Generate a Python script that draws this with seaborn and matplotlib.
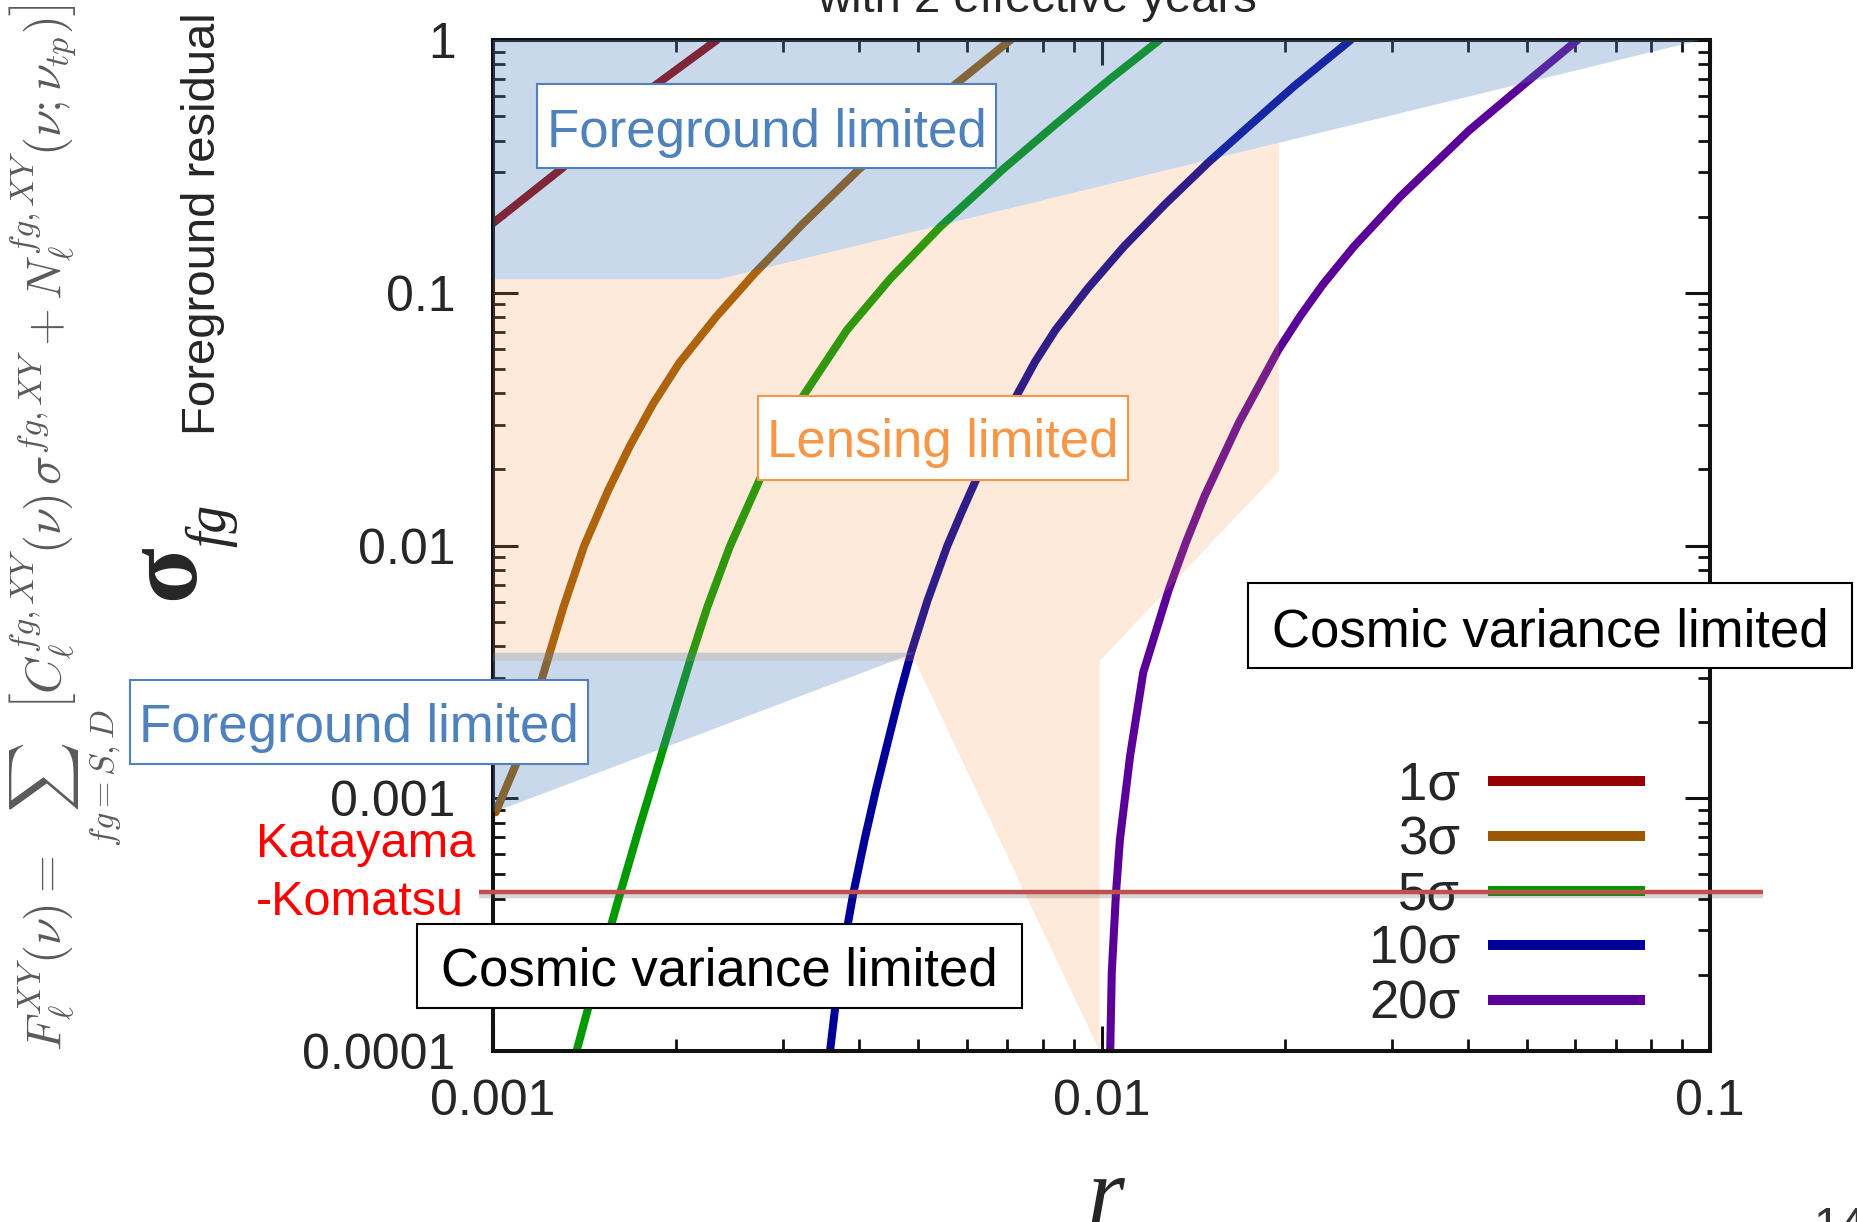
import matplotlib
matplotlib.use("Agg")
import matplotlib.pyplot as plt
import matplotlib.patheffects as pe
from matplotlib.lines import Line2D
from matplotlib.patches import Rectangle
from matplotlib.ticker import FixedLocator, FixedFormatter, LogLocator, NullFormatter
import numpy as np
import pandas as pd
import seaborn as sns

sns.set_style("ticks")
plt.rcParams["font.family"] = ["Liberation Sans", "DejaVu Sans"]

# ---- detection contours: tensor-to-scalar ratio r vs. foreground residual ----
levels = ["1σ", "3σ", "5σ", "10σ", "20σ"]
colors = ["#950000", "#9C5800", "#009900", "#000099", "#5A0099"]

r_1sig = [0.001000, 0.001289, 0.001538, 0.001835, 0.002333]
s_1sig = [0.1886, 0.3063, 0.4408, 0.6537, 1.0]

r_3sig = [0.001010, 0.001105, 0.001202, 0.001307, 0.001411, 0.001545, 0.001677,
          0.001832, 0.002025, 0.002325, 0.002693, 0.003232, 0.003981, 0.004834,
          0.005784, 0.007085]
s_3sig = [8.798e-4, 1.466e-3, 2.946e-3, 5.753e-3, 9.929e-3, 0.01645, 0.02465,
          0.03632, 0.05286, 0.08018, 0.1195, 0.1878, 0.3056, 0.4663, 0.6750, 1.0]

r_5sig = [0.001372, 0.001494, 0.001620, 0.001743, 0.001910, 0.002110, 0.002251,
          0.002451, 0.002745, 0.003232, 0.003818, 0.004501, 0.005433, 0.006899,
          0.008428, 0.010349, 0.012456]
s_5sig = [1.0e-4, 2.140e-4, 4.249e-4, 7.78e-4, 1.610e-3, 3.535e-3, 5.721e-3,
          9.929e-3, 0.01828, 0.03897, 0.07130, 0.1140, 0.1824, 0.3092, 0.4663,
          0.7034, 1.0]

r_10sig = [0.003580, 0.003717, 0.003913, 0.004083, 0.004262, 0.004465, 0.004649,
           0.004866, 0.005178, 0.005576, 0.005878, 0.006226, 0.006722, 0.007244,
           0.007772, 0.008403, 0.009504, 0.010879, 0.012716, 0.01499, 0.01741,
           0.02071, 0.02567]
s_10sig = [1.0e-4, 2.140e-4, 4.249e-4, 6.918e-4, 1.087e-3, 1.708e-3, 2.515e-3,
           3.771e-3, 6.066e-3, 9.929e-3, 0.01339, 0.01828, 0.02708, 0.03897,
           0.05318, 0.07130, 0.1044, 0.1521, 0.2239, 0.3280, 0.4529, 0.6554, 1.0]

r_20sig = [0.010335, 0.010397, 0.010566, 0.010722, 0.011141, 0.011710, 0.012903,
           0.013765, 0.01477, 0.01681, 0.01953, 0.02120, 0.02309, 0.02597,
           0.03098, 0.04024, 0.04974, 0.06056]
s_20sig = [1.0e-4, 2.053e-4, 4.249e-4, 6.877e-4, 1.466e-3, 3.144e-3, 6.702e-3,
           0.010285, 0.01569, 0.03055, 0.05945, 0.08067, 0.10755, 0.1521,
           0.2403, 0.4398, 0.6750, 1.0]

# ---- shaded regimes (polygon vertices in data units) ----
fg_upper_r = [0.001, 0.0966, 0.002355, 0.001]
fg_upper_s = [1.0, 1.0, 0.1132, 0.1132]

lens_r = [0.001, 0.002355, 0.01957, 0.01957, 0.00993, 0.00993, 0.00494, 0.001]
lens_s = [0.1132, 0.1132, 0.3917, 0.01966, 0.003489, 1.0e-4, 0.003489, 0.003489]

fg_lower_r = [0.001, 0.00494, 0.001]
fg_lower_s = [0.003766, 0.003766, 8.78e-4]

# Katayama-Komatsu foreground residual level
kk_sigma = 4.24e-4
kk_r = [0.000948, 0.122]

x_ticks = [1e-3, 1e-2, 1e-1]
x_labels = ["0.001", "0.01", "0.1"]
y_ticks = [1e-4, 1e-3, 1e-2, 1e-1, 1.0]
y_labels = ["0.0001", "0.001", "0.01", "0.1", "1"]

# ---- figure ----
W, H = 1857, 1222
fig = plt.figure(figsize=(W / 100, H / 100), dpi=100)


def fx(x):
    return x / W


def fy(y):
    return 1 - y / H


ax = fig.add_axes([fx(493), fy(1051), (1710 - 493) / W, (1051 - 40) / H])

curves = []
for name, r, s in zip(levels, [r_1sig, r_3sig, r_5sig, r_10sig, r_20sig],
                      [s_1sig, s_3sig, s_5sig, s_10sig, s_20sig]):
    curves.append(pd.DataFrame({"r": r, "sigma": s, "level": name}))
df = pd.concat(curves, ignore_index=True)

sns.lineplot(data=df, x="r", y="sigma", hue="level", hue_order=levels,
             palette=colors, estimator=None, sort=False, lw=5.8,
             legend=False, ax=ax, zorder=2)

ax.set_xscale("log")
ax.set_yscale("log")
ax.set_xlim(1e-3, 0.1)
ax.set_ylim(1e-4, 1.0)
ax.set_xlabel("")
ax.set_ylabel("")

ax.fill(fg_upper_r, fg_upper_s, color="#4F81BD", alpha=0.3, lw=0, zorder=3)
ax.fill(lens_r, lens_s, color="#F79646", alpha=0.2, lw=0, zorder=3)
ax.fill(fg_lower_r, fg_lower_s, color="#4F81BD", alpha=0.3, lw=0, zorder=3.1)

ax.plot(kk_r, [kk_sigma, kk_sigma], color="#C0504D", lw=3.2, clip_on=False,
        zorder=7, solid_capstyle="butt",
        path_effects=[pe.SimpleLineShadow(offset=(0, -2.5), shadow_color="0.35",
                                          alpha=0.25),
                      pe.Normal()])

# axes frame and ticks
ax.xaxis.set_major_locator(FixedLocator(x_ticks))
ax.xaxis.set_major_formatter(FixedFormatter(x_labels))
ax.yaxis.set_major_locator(FixedLocator(y_ticks))
ax.yaxis.set_major_formatter(FixedFormatter(y_labels))
ax.xaxis.set_minor_locator(LogLocator(base=10, subs=np.arange(2, 10)))
ax.yaxis.set_minor_locator(LogLocator(base=10, subs=np.arange(2, 10)))
ax.xaxis.set_minor_formatter(NullFormatter())
ax.yaxis.set_minor_formatter(NullFormatter())
ax.tick_params(which="both", direction="in", top=True, right=True, color="#111111")
ax.tick_params(which="major", length=18, width=2.2, labelsize=36)
ax.tick_params(which="minor", length=8.5, width=2.0)
ax.tick_params(axis="x", which="major", pad=20)
ax.tick_params(axis="y", which="major", pad=27)
for sp in ax.spines.values():
    sp.set_linewidth(2.9)
    sp.set_color("#111111")
    sp.set_visible(True)

handles = [Line2D([], [], color=c, lw=7.2, solid_capstyle="butt") for c in colors]
leg = ax.legend(handles, levels, loc="center right",
                bbox_to_anchor=(fx(1645), fy(895)), bbox_transform=fig.transFigure,
                frameon=False, markerfirst=False, fontsize=38, handlelength=2.98,
                handletextpad=0.52, labelspacing=0.09, borderpad=0, borderaxespad=0)
leg.set_zorder(6)

# ---- annotations ----
fig.text(fx(1037), fy(12), "with 2 effective years", ha="center", va="baseline",
         fontsize=34)
fig.text(fx(203), fy(224), "Foreground residual", rotation=90, ha="center",
         va="center", fontsize=34)
fig.text(fx(193), fy(572), "σ", rotation=90, rotation_mode="anchor", ha="center",
         va="baseline", fontsize=74, fontweight="bold", family="Liberation Serif")
fig.text(fx(225), fy(525), "fg", rotation=90, rotation_mode="anchor", ha="center",
         va="baseline", fontsize=40, style="italic", family="Liberation Serif")
formula = (r"$F_\ell^{XY}(\nu) = \sum_{fg=S,D}\left[C_\ell^{fg,XY}(\nu)\,"
           r"\sigma^{fg,XY} + N_\ell^{fg,XY}(\nu;\nu_{tp})\right]$")
fig.text(fx(65), fy(528), formula, rotation=90, ha="center", va="center",
         fontsize=35, color="#5a5a5a", math_fontfamily="cm")
fig.text(fx(1106), 0.0, "r", ha="center", va="baseline", fontsize=68,
         style="italic", family="Liberation Serif")
fig.text(fx(1813), fy(1240), "14", ha="left", va="baseline", fontsize=34,
         color="#333333")

fig.text(fx(256), fy(857), "Katayama", ha="left", va="baseline", fontsize=35,
         color="#FF0000")
fig.text(fx(256), fy(915), "-Komatsu", ha="left", va="baseline", fontsize=35,
         color="#FF0000")


def label_box(x0, y0, x1, y1, text, tx, ty, color, edge):
    fig.add_artist(Rectangle((fx(x0), fy(y1)), fx(x1) - fx(x0), fy(y0) - fy(y1),
                             transform=fig.transFigure, fc="white", ec=edge,
                             lw=1.5, zorder=8))
    fig.text(fx(tx), fy(ty), text, ha="center", va="baseline", fontsize=38,
             color=color, zorder=9)


label_box(537.3, 84.3, 996, 168.3, "Foreground limited", 766.7, 146.7,
          "#4F81BD", "#4F81BD")
label_box(130, 680, 587.7, 764, "Foreground limited", 359, 742,
          "#4F81BD", "#4F81BD")
label_box(758.3, 395.7, 1127.7, 480, "Lensing limited", 943, 456.7,
          "#F79646", "#F79646")
label_box(1248.3, 583.3, 1852, 667.7, "Cosmic variance limited", 1550, 646,
          "black", "black")
label_box(417, 924, 1022, 1008.3, "Cosmic variance limited", 719.5, 986,
          "black", "black")

fig.savefig("out.png", dpi=100)
